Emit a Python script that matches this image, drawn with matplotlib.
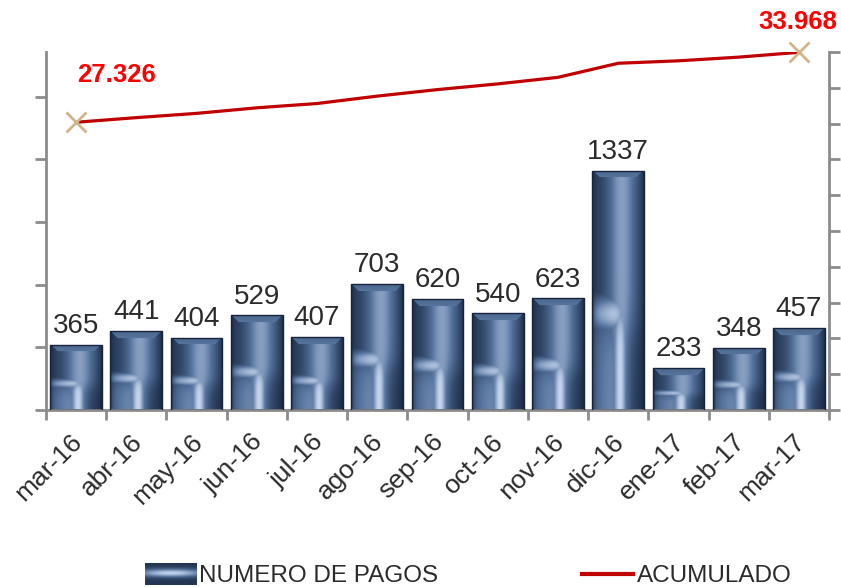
import numpy as np
import matplotlib
matplotlib.use("Agg")
from matplotlib import pyplot as plt
from matplotlib.patches import Patch
from matplotlib.lines import Line2D
from matplotlib.legend_handler import HandlerBase
from matplotlib.image import BboxImage
from matplotlib.colors import LinearSegmentedColormap
from matplotlib.transforms import Bbox, TransformedBbox, ScaledTranslation

plt.rcParams['font.family'] = ['Liberation Sans', 'DejaVu Sans']

meses = ['mar-16', 'abr-16', 'may-16', 'jun-16', 'jul-16', 'ago-16', 'sep-16',
         'oct-16', 'nov-16', 'dic-16', 'ene-17', 'feb-17', 'mar-17']
pagos = [365, 441, 404, 529, 407, 703, 620, 540, 623, 1337, 233, 348, 457]
acumulado = [27326, 27767, 28171, 28700, 29107, 29810, 30430, 30970, 31593,
             32930, 33163, 33511, 33968]
etiqueta_ini = '27.326'
etiqueta_fin = '33.968'

CMAP = LinearSegmentedColormap.from_list('bev', ['#172640', '#56749e', '#cfdef5'])
GRAY = '#8c8c8c'
TXT = '#2b2b2b'


def sig(z):
    return 1 / (1 + np.exp(-z))


def bar_img(wpx, hpx):
    # rough copy of the excel bevel look
    u = np.linspace(0, 1, wpx)[None, :]
    v = np.linspace(0, 1, hpx)[:, None]
    cu, cv = 0.55, 0.6
    t = 0.15 + 0.55 * np.exp(-((u - 0.58) / 0.28) ** 2) + 0 * v
    band_h = np.exp(-((v - cv) / 0.08) ** 2) * sig((cu + 0.05 - u) / 0.06) * (0.6 + 0.4 * u / cu)
    band_v = np.exp(-((u - cu) / 0.16) ** 2) * sig((v - cv + 0.03) / 0.05)
    t = np.maximum(t, np.maximum(band_h, band_v))
    ll = sig((v - cv) / 0.06) * sig((cu - u) / 0.08)
    t = np.maximum(t, ll * (0.4 + 0.35 * u / cu))
    lr = sig((u - cu - 0.12) / 0.05) * sig((v - cv - 0.05) / 0.05)
    t = t * (1 - 0.55 * lr * (0.6 + 0.4 * v))
    px = np.arange(wpx)[None, :] + 0 * v
    py = np.arange(hpx)[:, None] + 0 * u
    t = t * (1 - 0.7 * np.exp(-px / 2.5)) * (1 - 0.7 * np.exp(-(wpx - 1 - px) / 2.5))
    bev = 7
    top = (py < bev) & (px > py) & (wpx - 1 - px > py)
    t = np.where(top, 0.42 + 0.08 * (py / bev), t)
    return CMAP(np.clip(t, 0, 1))[..., :3]


def legend_img():
    v = np.linspace(0, 1, 16)[:, None]
    u = np.linspace(0, 1, 52)[None, :]
    t = 0.1 + 0.85 * np.exp(-((v - 0.45) / 0.2) ** 2) * (0.6 + 0.4 * np.sin(np.pi * u))
    return CMAP(np.clip(t, 0, 1))[..., :3]


class GradHandler(HandlerBase):
    def create_artists(self, legend, orig_handle, xdescent, ydescent, width, height,
                       fontsize, trans):
        bb = TransformedBbox(Bbox.from_bounds(-xdescent, -ydescent - 2, width, height + 3), trans)
        img = BboxImage(bb, interpolation='bilinear')
        img.set_data(legend_img())
        return [img]


fig = plt.figure(figsize=(8.41, 5.87), dpi=100)
ax = fig.add_axes([46 / 841, 1 - 410 / 587, (829 - 46) / 841, (410 - 52) / 587])
x = np.arange(len(meses))
ymax = 2000

bw = 0.86
ax_w = (829 - 46)
ax_h = (410 - 52)
bars = ax.bar(x, pagos, width=bw, facecolor='none', edgecolor='#16233a', linewidth=1, zorder=3)
for xi, val, rect in zip(x, pagos, bars):
    wpx = int(bw / len(meses) * ax_w)
    hpx = max(int(val / ymax * ax_h), 4)
    im = ax.imshow(bar_img(wpx, hpx), extent=[xi - bw / 2, xi + bw / 2, 0, val],
                   aspect='auto', zorder=2, interpolation='bilinear')
    im.set_clip_path(rect)
    ax.annotate(str(val), (xi, val), xytext=(0, 8.5), textcoords='offset points',
                ha='center', va='baseline', fontsize=20, color=TXT)
ax.set_xlim(-0.5, len(meses) - 0.5)
ax.set_ylim(0, ymax)

ax.set_xticks(list(x - 0.5) + [len(meses) - 0.5])
ax.set_xticklabels([''] * (len(meses) + 1))
ax.set_xticks(x, minor=True)
ax.set_xticklabels(meses, minor=True, rotation=45, ha='right', va='top',
                   rotation_mode='anchor', fontsize=19, color=TXT)
ax.tick_params(axis='x', which='minor', length=0, pad=14)
ax.tick_params(axis='x', which='major', length=7, width=2, color=GRAY)
shift = ScaledTranslation(-6 / 100, 0, fig.dpi_scale_trans)
for lab in ax.get_xticklabels(minor=True):
    lab.set_transform(lab.get_transform() + shift)
ax.set_yticks(np.arange(0, 1751, 350))
ax.set_yticklabels([])
ax.tick_params(axis='y', length=8, width=2, color=GRAY)
for s in ['top', 'right']:
    ax.spines[s].set_visible(False)
for s in ['left', 'bottom']:
    ax.spines[s].set_color(GRAY)
    ax.spines[s].set_linewidth(2)

ax2 = ax.twinx()
ax2.plot(x, acumulado, color='#c00000', lw=2.3, zorder=4)
ax2.plot([x[0], x[-1]], [acumulado[0], acumulado[-1]], ls='none', marker='x',
         ms=14, mew=2, color='#d2b48c', clip_on=False, zorder=5)
ax2.set_ylim(0, 34000)
ax2.set_yticks(np.arange(0, 34001, 3400))
ax2.set_yticklabels([])
ax2.tick_params(axis='y', length=8, width=2, color=GRAY)
for s in ['top', 'left', 'bottom']:
    ax2.spines[s].set_visible(False)
ax2.spines['right'].set_color(GRAY)
ax2.spines['right'].set_linewidth(2)

ax2.annotate(etiqueta_ini, (x[0], acumulado[0]), xytext=(29, 34), textcoords='offset points',
             ha='center', va='center', fontsize=18.5, fontweight='bold', color='#ff0000')
ax2.annotate(etiqueta_fin, (x[-1], acumulado[-1]), xytext=(-1, 22), textcoords='offset points',
             ha='center', va='center', fontsize=18.5, fontweight='bold', color='#ff0000',
             annotation_clip=False)

bar_handle = Patch(facecolor='#45608a')
handles = [bar_handle, Line2D([], [], color='#c00000', lw=3)]
fig.legend(handles, ['NUMERO DE PAGOS', 'ACUMULADO'], ncol=2, loc='center',
           bbox_to_anchor=(468 / 841, 1 - 576 / 587), frameon=False, fontsize=17.5,
           handlelength=2.1, handletextpad=0.15, columnspacing=5.9, labelcolor=TXT,
           handler_map={bar_handle: GradHandler()})

fig.savefig('out.png', dpi=100)
